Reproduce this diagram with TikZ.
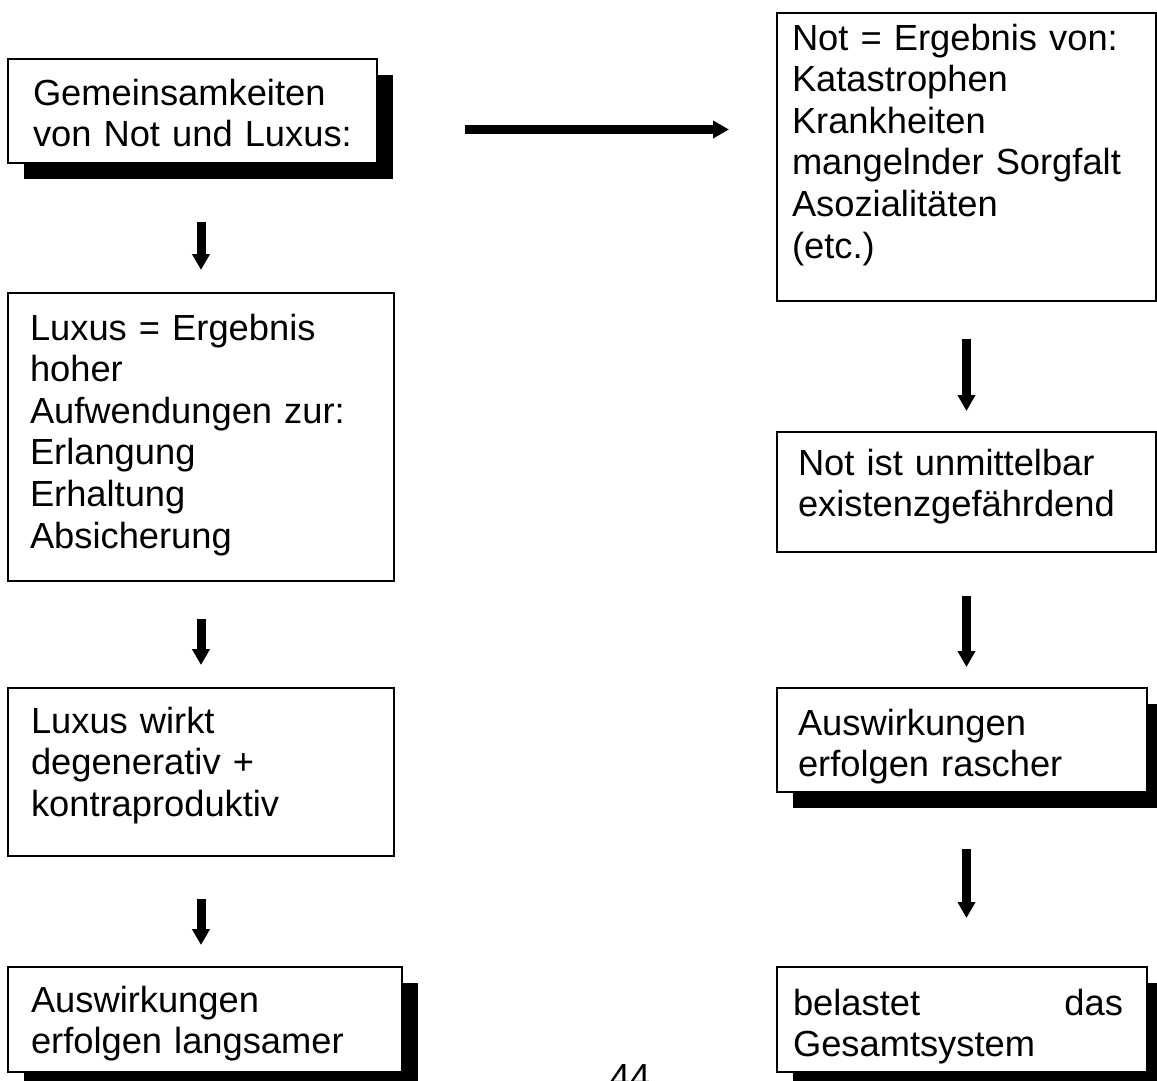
\documentclass[tikz,border=0pt]{standalone}
\usepackage{fontspec}
\setmainfont{Liberation Sans}
\usetikzlibrary{arrows.meta,positioning,shadows}

\begin{document}
\begin{tikzpicture}[font=\fontsize{36.3pt}{41.6pt}\selectfont,
  box/.style={draw, line width=2pt, fill=white, anchor=north west, align=left, text height=26pt},
  shadowed/.style={general shadow={fill=black, shadow xshift=16pt, shadow yshift=-16pt}},
  arr/.style={-{Triangle[length=16pt,width=17pt]}, line width=9pt}]
  \useasboundingbox (0,0) rectangle (1157pt,-1080pt);
  \node[box, shadowed, text width=319pt, inner xsep=25pt, inner ysep=20pt, text depth=38pt] (gemein) at (7pt,-58pt) {Gemeinsamkeiten\\von Not und Luxus:};
  \node[below=128pt of gemein.south west, box, text width=342pt, inner xsep=22pt, inner ysep=21pt, text depth=220pt] (luxerg) {Luxus = Ergebnis\\hoher\\Aufwendungen zur:\\Erlangung\\Erhaltung\\Absicherung};
  \node[below=105pt of luxerg.south west, box, text width=340pt, inner xsep=23pt, inner ysep=19pt, text depth=104pt] (luxwirkt) {Luxus wirkt\\degenerativ +\\kontraproduktiv};
  \node[below=109pt of luxwirkt.south west, box, shadowed, text width=348pt, inner xsep=23pt, inner ysep=19pt, text depth=41pt] (langsam) {Auswirkungen\\erfolgen langsamer};
  \node[box, text width=349pt, inner xsep=15pt, inner ysep=11pt, text depth=240pt] (noterg) at (776pt,-12pt) {Not = Ergebnis von:\\Katastrophen\\Krankheiten\\mangelnder Sorgfalt\\Asozialitäten\\(etc.)};
  \node[below=129pt of noterg.south west, box, text width=337pt, inner xsep=21pt, inner ysep=17pt, text depth=60pt] (existenz) {Not ist unmittelbar\\existenzgefährdend};
  \node[below=134pt of existenz.south west, box, shadowed, text width=328pt, inner xsep=21pt, inner ysep=21pt, text depth=36pt] (rasch) {Auswirkungen\\erfolgen rascher};
  \node[below=173pt of rasch.south west, box, shadowed, text width=338pt, inner xsep=16pt, inner ysep=22pt, text depth=35pt] (gesamt) {\makebox[330pt][s]{belastet\hfill das}\\Gesamtsystem};
  \node[anchor=base] (seite) at (630pt,-1089pt) {44};
  \draw[arr, shorten <=87pt, shorten >=47pt] ([yshift=-18.5pt]gemein.east) -- ([yshift=-18.5pt]gemein.east -| noterg.west);
  \draw[arr, shorten <=58pt, shorten >=22pt] (luxerg.north |- gemein.south) -- (luxerg.north);
  \draw[arr, shorten <=37pt, shorten >=22pt] (luxerg.south) -- (luxwirkt.north);
  \draw[arr, shorten <=42pt, shorten >=21pt] (luxwirkt.south) -- (luxwirkt.south |- langsam.north);
  \draw[arr, shorten <=37pt, shorten >=20pt] (noterg.south) -- (existenz.north);
  \draw[arr, shorten <=43pt, shorten >=20pt] (existenz.south) -- (existenz.south |- rasch.north);
  \draw[arr, shorten <=56pt, shorten >=48pt] (existenz.south |- rasch.south) -- (existenz.south |- gesamt.north);
\end{tikzpicture}
\end{document}
